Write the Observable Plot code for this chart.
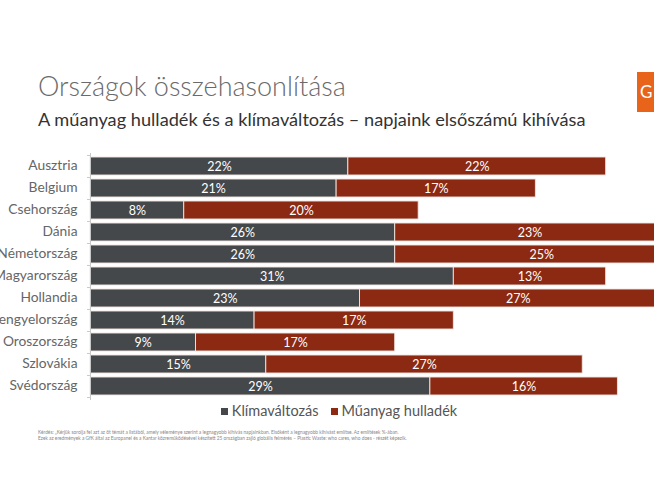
<!DOCTYPE html>
<html>
<head>
<meta charset="utf-8">
<script src="https://cdn.jsdelivr.net/npm/d3@7"></script>
<script src="https://cdn.jsdelivr.net/npm/@observablehq/plot@0.6"></script>
<style>
  html, body { margin: 0; padding: 0; background: #fff; overflow: hidden; }
  #page { position: relative; width: 654px; height: 491px; overflow: hidden; font-family: Lato, "Open Sans", sans-serif; }
  #title { position: absolute; left: 38px; top: 69px; font-size: 27px; font-weight: 300; color: #6a6a6a; white-space: nowrap; }
  #subtitle { position: absolute; left: 38px; top: 108px; font-size: 18.2px; color: #333; white-space: nowrap; }
  #logo { position: absolute; left: 637px; top: 72px; width: 20px; height: 40px; background: #e8641a; color: #fff; font-size: 17px; line-height: 40px; padding-left: 3px; overflow: hidden; white-space: nowrap; }
  #chart { position: absolute; left: 0; top: 150.5px; }
  #legend { position: absolute; left: 12px; width: 654px; top: 402px; text-align: center; font-size: 14.5px; color: #555; white-space: nowrap; }
  #legend span.item { display: inline-block; margin: 0 6px; }
  #legend span.sw { display: inline-block; width: 7px; height: 7px; margin-right: 4px; vertical-align: 1px; }
  #note { position: absolute; left: 38px; top: 429px; font-size: 4.8px; line-height: 6px; color: #888; white-space: nowrap; }
</style>
</head>
<body>
<div id="page">
  <div id="title">Országok összehasonlítása</div>
  <div id="subtitle">A műanyag hulladék és a klímaváltozás – napjaink elsőszámú kihívása</div>
  <div id="logo">G</div>
  <div id="chart"></div>
  <div id="legend"></div>
  <div id="note"></div>
</div>
<script>
// Countries and the share (%) naming each issue as today's biggest challenge
const countries = ["Ausztria", "Belgium", "Csehország", "Dánia", "Németország", "Magyarország",
  "Hollandia", "Lengyelország", "Oroszország", "Szlovákia", "Svédország"];
const klimavaltozas = [22, 21, 8, 26, 26, 31, 23, 14, 9, 15, 29];
const muanyag = [22, 17, 20, 23, 25, 13, 27, 17, 17, 27, 16];
const seriesNames = ["Klímaváltozás", "Műanyag hulladék"];
const seriesColors = ["#45484b", "#8b2913"];
const noteLines = [
  "Kérdés: \u201EKérjük sorolja fel azt az öt témát a listából, amely véleménye szerint a legnagyobb kihívás napjainkban. Elsőként a legnagyobb kihívást említse. Az említések %-ában.",
  "Ezek az eredmények a GfK által az Europanel és a Kantar közreműködésével készített 25 országban zajló globális felmérés \u2013 Plastic Waste: who cares, who does - részét képezik."
];

const rows = [];
countries.forEach((c, i) => {
  rows.push({country: c, series: seriesNames[0], value: klimavaltozas[i]});
  rows.push({country: c, series: seriesNames[1], value: muanyag[i]});
});

const width = 654, marginLeft = 90, marginTop = 4, marginBottom = 4, height = 251;
const step = (height - marginTop - marginBottom) / countries.length;

const stackOpts = {y: "country", x: "value", z: "series", order: seriesNames};

const chart = Plot.plot({
  width, height, marginLeft, marginRight: 0, marginTop, marginBottom,
  style: {fontFamily: "Lato, 'Open Sans', sans-serif", overflow: "visible", background: "transparent"},
  x: {domain: [0, (width - marginLeft) / 11.72], axis: null},
  y: {domain: countries, paddingInner: 0.16, paddingOuter: 0.08, label: null},
  color: {domain: seriesNames, range: seriesColors},
  marks: [
    Plot.axisY({tickSize: 0, tickPadding: 13, fontSize: 13.8, color: "#666", label: null, dy: -1}),
    Plot.barX(rows, Plot.stackX({...stackOpts, fill: "series", stroke: "#f1e6e3", strokeWidth: 0.9})),
    Plot.text(rows, Plot.stackX({...stackOpts, text: d => d.value + "%", fill: "white", fontSize: 12.5})),
    Plot.ruleX([0], {stroke: "#c8c8c8", strokeWidth: 1, insetTop: -2, insetBottom: -2}),
    Plot.ruleY(countries, {y: d => d, x1: 0, x2: 0, insetLeft: -3, dy: -step / 2, stroke: "#c8c8c8"}),
    Plot.ruleY([countries[countries.length - 1]], {y: d => d, x1: 0, x2: 0, insetLeft: -3, dy: step / 2, stroke: "#c8c8c8"})
  ]
});
document.getElementById("chart").appendChild(chart);

const legend = document.getElementById("legend");
seriesNames.forEach((name, i) => {
  const item = document.createElement("span");
  item.className = "item";
  const sw = document.createElement("span");
  sw.className = "sw";
  sw.style.background = seriesColors[i];
  item.appendChild(sw);
  item.appendChild(document.createTextNode(name));
  legend.appendChild(item);
});

const note = document.getElementById("note");
noteLines.forEach(t => {
  const d = document.createElement("div");
  d.textContent = t;
  note.appendChild(d);
});
</script>
</body>
</html>
